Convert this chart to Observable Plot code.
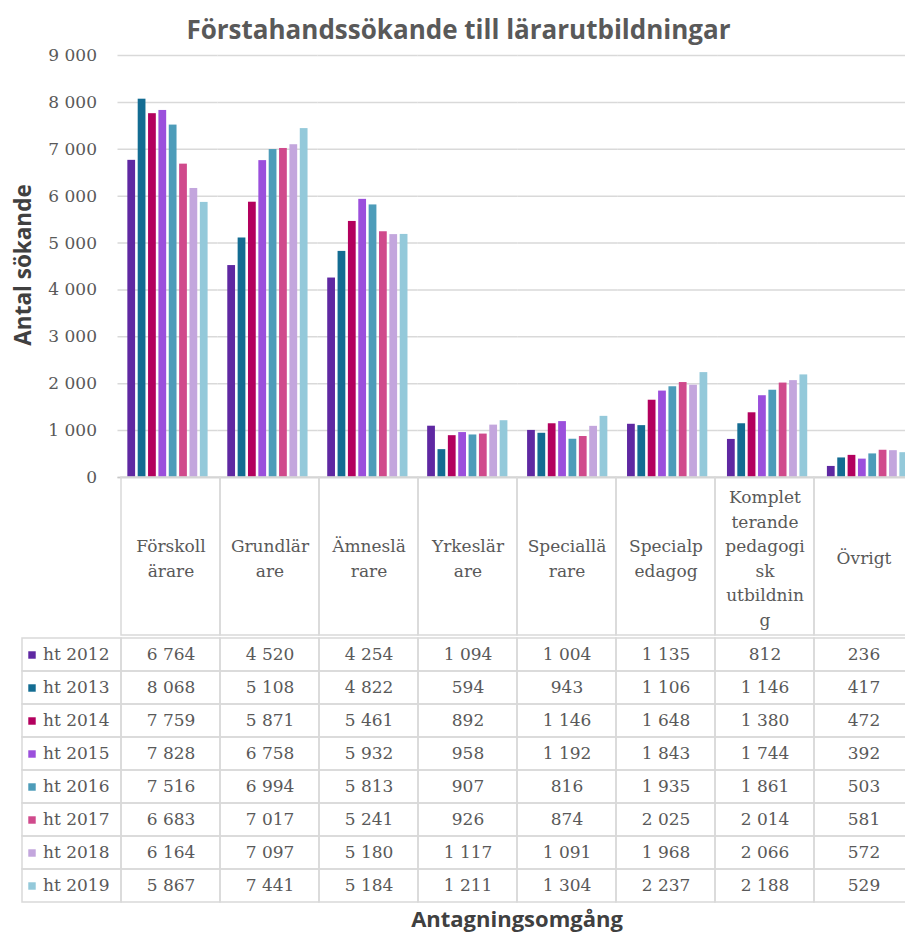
<!DOCTYPE html>
<html>
<head>
<meta charset="utf-8">
<script src="https://cdn.jsdelivr.net/npm/d3@7"></script>
<script src="https://cdn.jsdelivr.net/npm/@observablehq/plot@0.6"></script>
<style>
  html, body { margin: 0; padding: 0; background: #fff; overflow: hidden; }
  #wrap { position: relative; width: 905px; height: 935px; overflow: hidden; background: #fff; }
  #wrap svg { max-width: none !important; background: transparent !important; overflow: visible; }
  .abs { position: absolute; }
  #title { left: 0; top: 11px; width: 917px; text-align: center; font: bold 26px "Open Sans", sans-serif; color: #595959; white-space: nowrap; }
  #ylab { left: 22px; top: 265px; transform: translate(-50%, -50%) rotate(-90deg); font: bold 22.5px "Open Sans", sans-serif; color: #404040; white-space: nowrap; }
  #xlab { left: 117px; width: 800px; top: 903px; text-align: center; font: bold 22px "Open Sans", sans-serif; color: #404040; white-space: nowrap; }
</style>
</head>
<body>
<div id="wrap">
  <div id="chartA" class="abs" style="left:0;top:0"></div>
  <div id="chartB" class="abs" style="left:0;top:476px"></div>
  <div id="chartC" class="abs" style="left:0;top:634px"></div>
  <div id="title" class="abs">Förstahandssökande till lärarutbildningar</div>
  <div id="ylab" class="abs">Antal sökande</div>
  <div id="xlab" class="abs">Antagningsomgång</div>
</div>
<script>
const categories = ["Förskollärare", "Grundlärare", "Ämneslärare", "Yrkeslärare", "Speciallärare", "Specialpedagog", "Kompletterande pedagogisk utbildning", "Övrigt"];
const categoryLabels = ["Förskoll\närare", "Grundlär\nare", "Ämneslä\nrare", "Yrkeslär\nare", "Speciallä\nrare", "Specialp\nedagog", "Komplet\nterande\npedagogi\nsk\nutbildnin\ng", "Övrigt"];
const years = ["ht 2012", "ht 2013", "ht 2014", "ht 2015", "ht 2016", "ht 2017", "ht 2018", "ht 2019"];
const colors = ["#5f28a2", "#136c92", "#b3005e", "#9b4fdc", "#4d9cb9", "#d04a8c", "#c3a6dd", "#94c9da"];

const ht2012 = [6764, 4520, 4254, 1094, 1004, 1135, 812, 236];
const ht2013 = [8068, 5108, 4822, 594, 943, 1106, 1146, 417];
const ht2014 = [7759, 5871, 5461, 892, 1146, 1648, 1380, 472];
const ht2015 = [7828, 6758, 5932, 958, 1192, 1843, 1744, 392];
const ht2016 = [7516, 6994, 5813, 907, 816, 1935, 1861, 503];
const ht2017 = [6683, 7017, 5241, 926, 874, 2025, 2014, 581];
const ht2018 = [6164, 7097, 5180, 1117, 1091, 1968, 2066, 572];
const ht2019 = [5867, 7441, 5184, 1211, 1304, 2237, 2188, 529];
const yTicks = [0, 1000, 2000, 3000, 4000, 5000, 6000, 7000, 8000, 9000];

const series = [ht2012, ht2013, ht2014, ht2015, ht2016, ht2017, ht2018, ht2019];
const rows = [];
years.forEach((yr, i) => categories.forEach((c, j) => rows.push({year: yr, category: c, value: series[i][j]})));

const fmt = v => d3.format(",")(v).replace(/,/g, " ");
const serif = "DejaVu Serif";
const textColor = "#595959";
const lineColor = "#d9d9d9";

// Bar chart
const chartA = Plot.plot({
  width: 917, height: 490,
  marginTop: 55, marginBottom: 13, marginLeft: 117.5, marginRight: 0,
  style: {fontFamily: serif, fontSize: "17px", color: textColor, background: "transparent"},
  fx: {domain: categories, padding: 0, axis: null, round: false},
  x: {domain: years, paddingInner: 0.25, paddingOuter: 0.95, axis: null, round: false},
  y: {domain: [0, 9000], ticks: 9, tickSize: 0, tickPadding: 21, tickFormat: fmt, label: null},
  color: {domain: years, range: colors},
  marks: [
    Plot.ruleY(yTicks, {stroke: lineColor, strokeWidth: 1.5}),
    Plot.barY(rows, {fx: "category", x: "year", y: "value", fill: "year"}),
    Plot.ruleY([0], {stroke: "#c8c8c8", strokeWidth: 1.5})
  ]
});
document.getElementById("chartA").append(chartA);

// Header row with category labels
const chartB = Plot.plot({
  width: 917, height: 160,
  marginTop: 1, marginBottom: 1, marginLeft: 117.5, marginRight: 0,
  style: {fontFamily: serif, fontSize: "17px", color: textColor, background: "transparent"},
  x: {domain: categories, padding: 0, axis: null},
  marks: [
    Plot.cell(categories, {x: d => d, stroke: lineColor, strokeWidth: 1.5, fill: "none"}),
    Plot.text(categories, {x: d => d, text: (d, i) => categoryLabels[i], fill: textColor, fontSize: 17, lineHeight: 1.44})
  ]
});
document.getElementById("chartB").append(chartB);

// Data table
const columns = ["legend", ...categories];
const chartC = Plot.plot({
  width: 917, height: 271,
  marginTop: 1, marginBottom: 1, marginLeft: 17.5, marginRight: 0,
  style: {fontFamily: serif, fontSize: "17px", color: textColor, background: "transparent"},
  x: {domain: columns, padding: 0, axis: null},
  y: {domain: years, padding: 0, axis: null},
  color: {domain: years, range: colors},
  marks: [
    Plot.cell(rows, {x: "category", y: "year", stroke: lineColor, strokeWidth: 1.5, fill: "none"}),
    Plot.cell(years, {x: () => "legend", y: d => d, stroke: lineColor, strokeWidth: 1.5, fill: "none"}),
    Plot.text(rows, {x: "category", y: "year", text: d => fmt(d.value), fill: textColor, fontSize: 17}),
    Plot.dot(years, {x: () => "legend", y: d => d, fill: d => d, symbol: "square", r: 4.2, dx: -40}),
    Plot.text(years, {x: () => "legend", y: d => d, text: d => d, textAnchor: "start", dx: -29, fill: textColor, fontSize: 17})
  ]
});
document.getElementById("chartC").append(chartC);
</script>
</body>
</html>
